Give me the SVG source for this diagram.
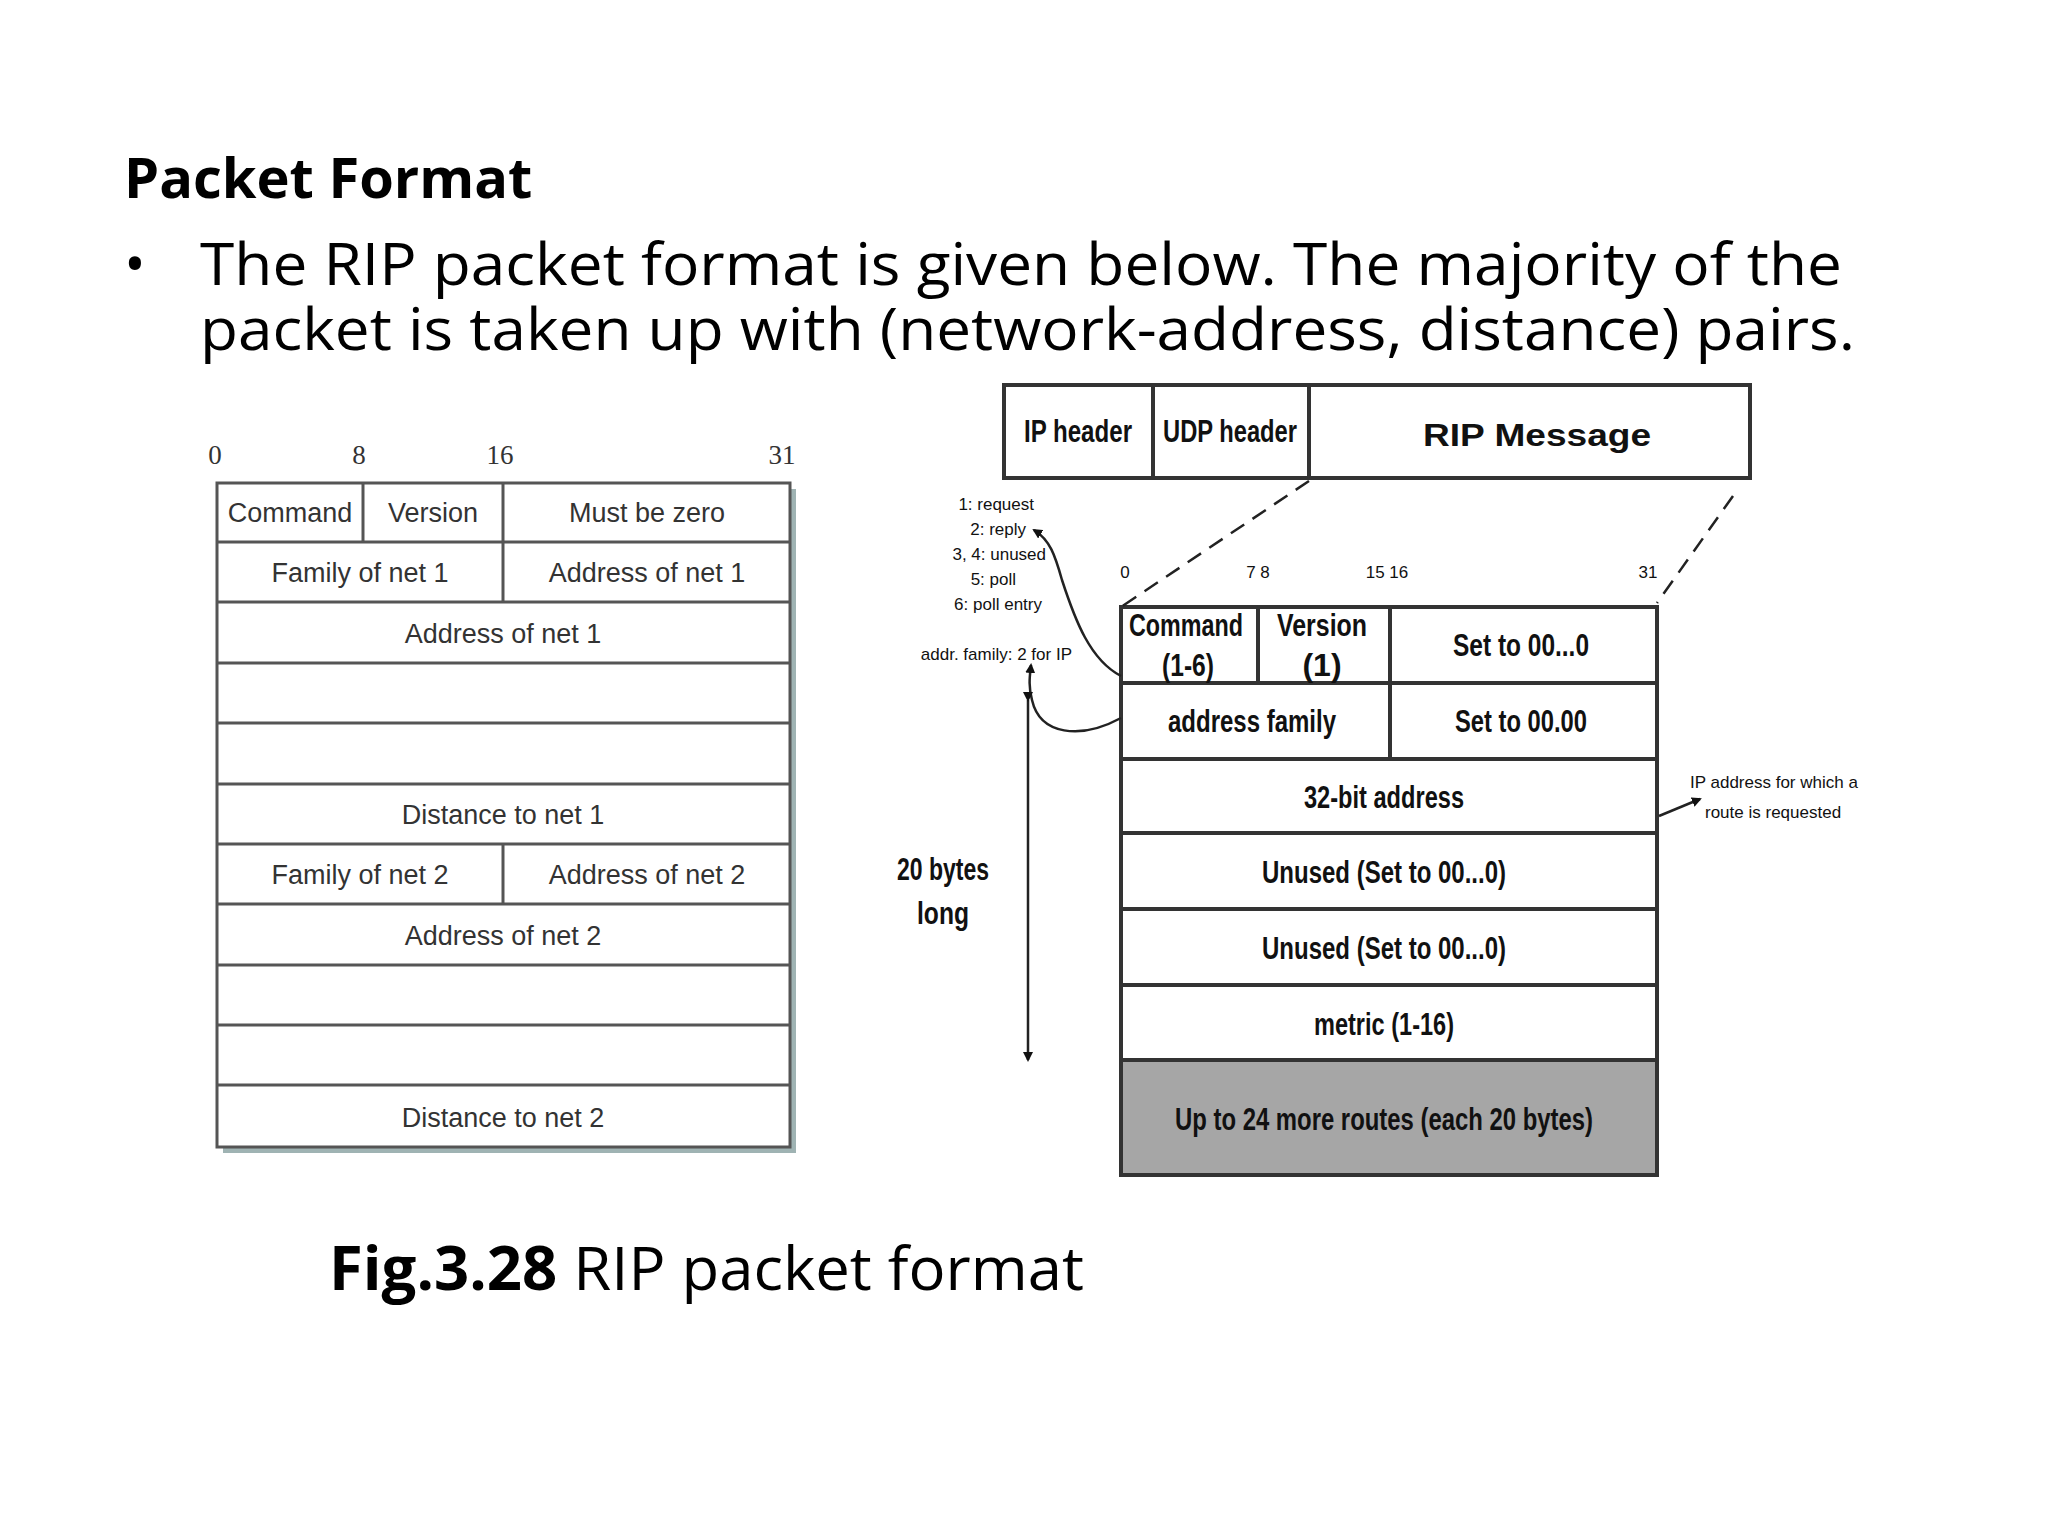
<svg xmlns="http://www.w3.org/2000/svg" width="2048" height="1536" viewBox="0 0 2048 1536">
<style>
.t{font-family:"Open Sans","Liberation Sans",sans-serif;fill:#000}
.l{font-family:"Liberation Sans",Arial,sans-serif;fill:#333;font-size:27px;text-anchor:middle}
.r{font-family:"Liberation Sans",Arial,sans-serif;fill:#111;font-size:32px;text-anchor:middle;font-weight:bold}
.s{font-family:"Liberation Sans",Arial,sans-serif;fill:#111;font-size:17px}
.c{stroke:#555;stroke-width:3}
.d{stroke:#333;stroke-width:4}
</style>
<defs>
<marker id="a" markerWidth="10" markerHeight="10" refX="8" refY="5" orient="auto" markerUnits="userSpaceOnUse"><path d="M0,0 L10,5 L0,10 z" fill="#111"/></marker>
</defs>
<rect width="2048" height="1536" fill="#fff"/>
<g id="title">
<text class="t" x="124" y="198" font-size="56" font-weight="bold">Packet Format</text>
<text class="t" x="124" y="285" font-size="58">•</text>
<text class="t" x="200" y="285" font-size="58" textLength="1642" lengthAdjust="spacingAndGlyphs">The RIP packet format is given below. The majority of the</text>
<text class="t" x="200" y="350" font-size="58" textLength="1655" lengthAdjust="spacingAndGlyphs">packet is taken up with (network-address, distance) pairs.</text>
<text class="t" x="329" y="1290" font-size="60" textLength="755" lengthAdjust="spacingAndGlyphs"><tspan font-weight="bold">Fig.3.28</tspan> RIP packet format</text>
</g>
<g id="left-table">
<rect x="223" y="489" width="573" height="664" fill="#9fb3b3"/>
<rect x="217" y="483" width="573" height="664" fill="#fff" class="c"/>
<g class="c">
<line x1="217" y1="542" x2="790" y2="542"/><line x1="217" y1="602" x2="790" y2="602"/>
<line x1="217" y1="663" x2="790" y2="663"/><line x1="217" y1="723" x2="790" y2="723"/>
<line x1="217" y1="784" x2="790" y2="784"/><line x1="217" y1="844" x2="790" y2="844"/>
<line x1="217" y1="904" x2="790" y2="904"/><line x1="217" y1="965" x2="790" y2="965"/>
<line x1="217" y1="1025" x2="790" y2="1025"/><line x1="217" y1="1085" x2="790" y2="1085"/>
<line x1="363" y1="483" x2="363" y2="542"/><line x1="503" y1="483" x2="503" y2="602"/>
<line x1="503" y1="844" x2="503" y2="904"/>
</g>
<g font-family="Liberation Serif,serif" font-size="27" fill="#333" text-anchor="middle">
<text x="215" y="464">0</text><text x="359" y="464">8</text><text x="500" y="464">16</text><text x="782" y="464">31</text>
</g>
<text class="l" x="290" y="522">Command</text><text class="l" x="433" y="522">Version</text><text class="l" x="647" y="522">Must be zero</text>
<text class="l" x="360" y="582">Family of net 1</text><text class="l" x="647" y="582">Address of net 1</text>
<text class="l" x="503" y="643">Address of net 1</text>
<text class="l" x="503" y="824">Distance to net 1</text>
<text class="l" x="360" y="884">Family of net 2</text><text class="l" x="647" y="884">Address of net 2</text>
<text class="l" x="503" y="945">Address of net 2</text>
<text class="l" x="503" y="1127">Distance to net 2</text>
</g>
<g id="header-box">
<rect x="1004" y="385" width="746" height="93" fill="#fff" class="d"/>
<line x1="1153" y1="385" x2="1153" y2="478" class="d"/><line x1="1309" y1="385" x2="1309" y2="478" class="d"/>
<text class="r" x="1078" y="442" font-size="30" textLength="108" lengthAdjust="spacingAndGlyphs">IP header</text>
<text class="r" x="1230" y="442" font-size="30" textLength="134" lengthAdjust="spacingAndGlyphs">UDP header</text>
<text class="r" x="1537" y="446" font-size="44" textLength="228" lengthAdjust="spacingAndGlyphs">RIP Message</text>
</g>
<g id="rip-table">
<rect x="1121" y="607" width="536" height="568" fill="#fff" class="d"/>
<rect x="1121" y="1060" width="536" height="115" fill="#a6a6a6" class="d"/>
<g class="d">
<line x1="1121" y1="683" x2="1657" y2="683"/><line x1="1121" y1="759" x2="1657" y2="759"/>
<line x1="1121" y1="833" x2="1657" y2="833"/><line x1="1121" y1="909" x2="1657" y2="909"/>
<line x1="1121" y1="985" x2="1657" y2="985"/>
<line x1="1258" y1="607" x2="1258" y2="683"/><line x1="1390" y1="607" x2="1390" y2="759"/>
</g>
<g class="s" font-size="19" text-anchor="middle">
<text x="1125" y="578">0</text><text x="1258" y="578">7 8</text><text x="1387" y="578">15 16</text><text x="1648" y="578">31</text>
</g>
<text class="r" x="1186" y="636" textLength="114" lengthAdjust="spacingAndGlyphs">Command</text>
<text class="r" x="1188" y="676" textLength="52" lengthAdjust="spacingAndGlyphs">(1-6)</text>
<text class="r" x="1322" y="636" textLength="90" lengthAdjust="spacingAndGlyphs">Version</text>
<text class="r" x="1322" y="676">(1)</text>
<text class="r" x="1521" y="656" textLength="136" lengthAdjust="spacingAndGlyphs">Set to 00...0</text>
<text class="r" x="1252" y="732" textLength="168" lengthAdjust="spacingAndGlyphs">address family</text>
<text class="r" x="1521" y="732" textLength="132" lengthAdjust="spacingAndGlyphs">Set to 00.00</text>
<text class="r" x="1384" y="808" textLength="160" lengthAdjust="spacingAndGlyphs">32-bit address</text>
<text class="r" x="1384" y="883" textLength="244" lengthAdjust="spacingAndGlyphs">Unused (Set to 00...0)</text>
<text class="r" x="1384" y="959" textLength="244" lengthAdjust="spacingAndGlyphs">Unused (Set to 00...0)</text>
<text class="r" x="1384" y="1035" textLength="140" lengthAdjust="spacingAndGlyphs">metric (1-16)</text>
<text class="r" x="1384" y="1130" textLength="418" lengthAdjust="spacingAndGlyphs">Up to 24 more routes (each 20 bytes)</text>
</g>
<g id="annotations">
<g class="s" text-anchor="end" font-size="16">
<text x="1034" y="510">1: request</text><text x="1026" y="535">2: reply</text>
<text x="1046" y="560">3, 4: unused</text><text x="1016" y="585">5: poll</text>
<text x="1042" y="610">6: poll entry</text>
<text x="1072" y="660">addr. family: 2 for IP</text>
</g>
<text class="r" x="943" y="880" font-size="30" textLength="92" lengthAdjust="spacingAndGlyphs">20 bytes</text>
<text class="r" x="943" y="924" font-size="30" textLength="52" lengthAdjust="spacingAndGlyphs">long</text>
<text class="s" x="1690" y="788" font-size="16">IP address for which a</text>
<text class="s" x="1705" y="818" font-size="16">route is requested</text>
</g>
<g id="connectors" fill="none" stroke="#222" stroke-width="2.5">
<line x1="1309" y1="481" x2="1121" y2="607" stroke-dasharray="16,10"/>
<line x1="1733" y1="496" x2="1657" y2="603" stroke-dasharray="16,10"/>
<path d="M1121,676 C1090,660 1075,620 1062,580 C1055,555 1050,540 1034,530" marker-end="url(#a)"/>
<path d="M1121,718 C1080,740 1040,735 1032,700 C1028,685 1030,675 1031,665" marker-end="url(#a)"/>
<line x1="1028" y1="700" x2="1028" y2="1060" marker-start="url(#a)" marker-end="url(#a)"/>
<line x1="1659" y1="816" x2="1700" y2="799" marker-end="url(#a)"/>
</g>
</svg>
